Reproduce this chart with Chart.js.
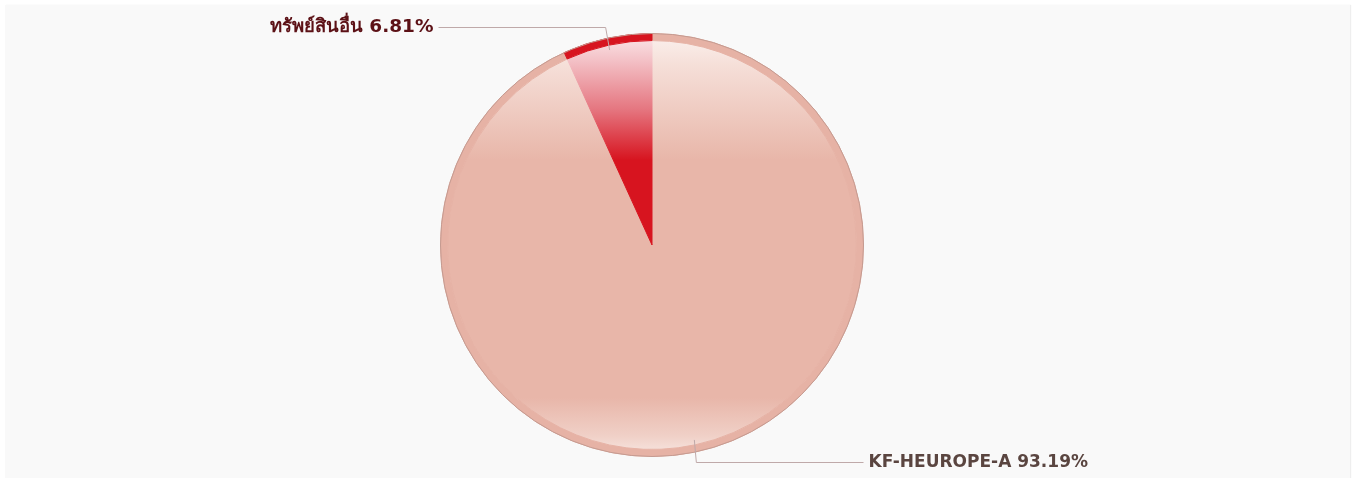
<!DOCTYPE html>
<html>
<head>
<meta charset="utf-8">
<script src="https://cdn.jsdelivr.net/npm/chart.js@4"></script>
<style>
  body { margin: 0; background: #ffffff; }
  #wrap { position: relative; width: 1355px; height: 478px; }
  #panel { position: absolute; left: 5px; top: 5px; width: 1345px; height: 473px; background: #f9f9f9; box-shadow: 1px 0 1px #eeeeee; }
  #pie { position: absolute; left: 0; top: 0; }
</style>
</head>
<body>
<div id="wrap">
  <div id="panel"></div>
  <canvas id="pie" width="1355" height="478"></canvas>
</div>
<script>
  const labels = ['KF-HEUROPE-A', 'ทรัพย์สินอื่น'];
  const values = [93.19, 6.81];
  const ringColors = ['#e6b2a5', '#d7141f'];
  const labelColors = ['#5a4540', '#5c1116'];
  const labelSizes = [17, 18.5];

  // vertical glass-like gradient for each slice
  function glass(ctx, i) {
    const area = ctx.chart.chartArea;
    if (!area) return ringColors[i];
    const g = ctx.chart.ctx.createLinearGradient(0, area.top, 0, area.bottom);
    if (i === 0) {
      g.addColorStop(0, '#fbf1ee');
      g.addColorStop(0.08, '#f5ded7');
      g.addColorStop(0.3, '#e8b6a9');
      g.addColorStop(0.86, '#e8b6a9');
      g.addColorStop(0.95, '#f0d0c7');
      g.addColorStop(1, '#f8e8e3');
    } else {
      g.addColorStop(0, '#fbe8ea');
      g.addColorStop(0.06, '#f4c4c9');
      g.addColorStop(0.18, '#e57680');
      g.addColorStop(0.3, '#d7141f');
      g.addColorStop(1, '#d7141f');
    }
    return g;
  }

  const calloutPlugin = {
    id: 'callouts',
    afterDatasetsDraw(chart) {
      const ctx = chart.ctx;
      const meta = chart.getDatasetMeta(0);
      // outer edge of the pie
      const a0 = meta.data[0].getProps(['x', 'y', 'outerRadius'], true);
      ctx.save();
      ctx.strokeStyle = '#c49a90';
      ctx.lineWidth = 1;
      ctx.beginPath();
      ctx.arc(a0.x, a0.y, a0.outerRadius, 0, Math.PI * 2);
      ctx.stroke();
      ctx.restore();

      meta.data.forEach((arc, i) => {
        const p = arc.getProps(['x', 'y', 'startAngle', 'endAngle', 'outerRadius'], true);
        const mid = (p.startAngle + p.endAngle) / 2;
        const r = p.outerRadius;
        const sx = p.x + Math.cos(mid) * (r - 12);
        const sy = p.y + Math.sin(mid) * (r - 12);
        const up = Math.sin(mid) < 0;
        const ey = up ? p.y - r - 6 : p.y + r + 6;
        const left = Math.cos(mid) < 0;
        const ex = left ? p.x - r - 2 : p.x + r;
        const ex0 = sx + (left ? -4 : 2);
        ctx.save();
        ctx.strokeStyle = '#bfa9a9';
        ctx.lineWidth = 1;
        ctx.beginPath();
        ctx.moveTo(sx, sy);
        ctx.lineTo(ex0, ey);
        ctx.lineTo(ex, ey);
        ctx.stroke();
        ctx.font = 'bold ' + labelSizes[i] + 'px Verdana, "DejaVu Sans", sans-serif';
        ctx.fillStyle = labelColors[i];
        ctx.textBaseline = 'middle';
        ctx.textAlign = left ? 'right' : 'left';
        ctx.fillText(labels[i] + ' ' + values[i].toFixed(2) + '%', ex + (left ? -5 : 5), ey);
        ctx.restore();
      });
    }
  };

  new Chart(document.getElementById('pie'), {
    type: 'pie',
    data: {
      labels: labels,
      datasets: [
        {
          data: values,
          backgroundColor: ringColors,
          borderColor: ringColors,
          borderWidth: 1,
          weight: 1
        },
        {
          data: values,
          backgroundColor: (c) => glass(c, c.dataIndex),
          borderColor: (c) => glass(c, c.dataIndex),
          borderWidth: 1,
          weight: 29
        }
      ]
    },
    options: {
      responsive: false,
      animation: false,
      layout: { padding: { top: 33, bottom: 21, left: 0, right: 51 } },
      plugins: {
        legend: { display: false },
        tooltip: { enabled: false }
      }
    },
    plugins: [calloutPlugin]
  });
</script>
</body>
</html>
